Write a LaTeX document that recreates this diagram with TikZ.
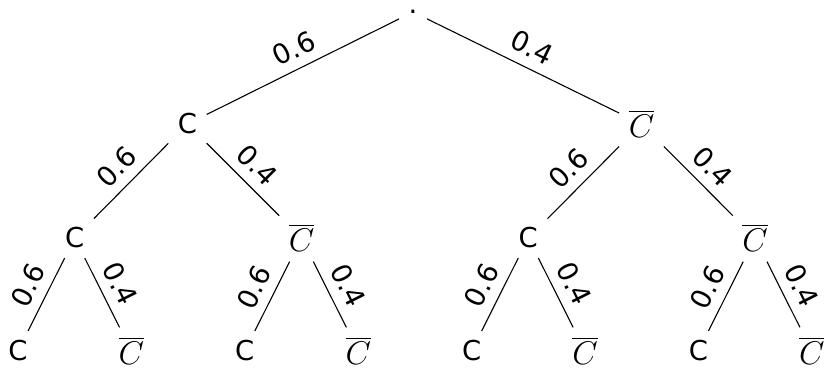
\documentclass[tikz,border=0pt]{standalone}
\usepackage{fontspec}
\setmainfont{DejaVu Sans}
\newcommand{\cb}{{\fontsize{11.5}{13}\selectfont$\overline{C}$}}
\begin{document}
\begin{tikzpicture}[x=0.365pt,y=0.365pt,
  tn/.style={inner sep=0.333em},
  lbl/.style={above,sloped,inner sep=3.5pt}]
\useasboundingbox (0,0) rectangle (824,-368);
\node[tn] (r) at (413,-12) {.};
\node[tn] (a) at (187.5,-124) {C};
\node[tn] (b) at (641.5,-124) {\cb};
\node[tn] (aa) at (74.7,-238) {C};
\node[tn] (ab) at (301.5,-238) {\cb};
\node[tn] (ba) at (528.3,-238) {C};
\node[tn] (bb) at (755.1,-238) {\cb};
\node[tn] (l1) at (18,-351) {C};
\node[tn] (l2) at (131.4,-351) {\cb};
\node[tn] (l3) at (244.8,-351) {C};
\node[tn] (l4) at (358.2,-351) {\cb};
\node[tn] (l5) at (471.6,-351) {C};
\node[tn] (l6) at (585,-351) {\cb};
\node[tn] (l7) at (698.4,-351) {C};
\node[tn] (l8) at (811.8,-351) {\cb};
\draw (r) -- node[lbl]{0.6} (a);
\draw (r) -- node[lbl]{0.4} (b);
\draw (a) -- node[lbl]{0.6} (aa);
\draw (a) -- node[lbl]{0.4} (ab);
\draw (b) -- node[lbl]{0.6} (ba);
\draw (b) -- node[lbl]{0.4} (bb);
\draw (aa) -- node[lbl]{0.6} (l1);
\draw (aa) -- node[lbl]{0.4} (l2);
\draw (ab) -- node[lbl]{0.6} (l3);
\draw (ab) -- node[lbl]{0.4} (l4);
\draw (ba) -- node[lbl]{0.6} (l5);
\draw (ba) -- node[lbl]{0.4} (l6);
\draw (bb) -- node[lbl]{0.6} (l7);
\draw (bb) -- node[lbl]{0.4} (l8);
\end{tikzpicture}
\end{document}
